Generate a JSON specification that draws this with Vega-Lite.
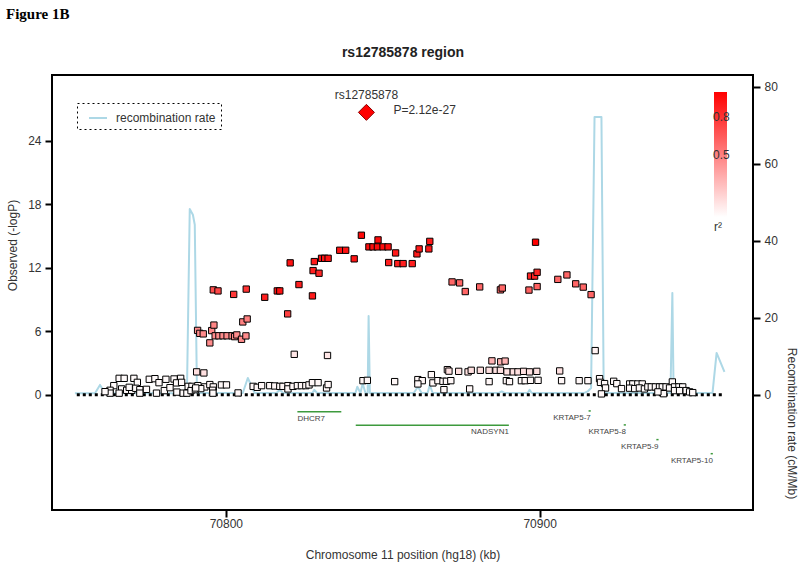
{
  "$schema": "https://vega.github.io/schema/vega-lite/v6.json",
  "width": 701,
  "height": 435,
  "autosize": "none",
  "padding": {"left": 52, "top": 75, "right": 47, "bottom": 55},
  "background": "#ffffff",
  "title": {"text": "Figure 1B", "anchor": "start", "font": "Liberation Serif", "fontSize": 15, "fontWeight": "bold", "color": "#000000", "offset": 20, "dy": -3},
  "config": {
    "font": "Liberation Sans",
    "view": {"stroke": "#000000", "strokeWidth": 2},
    "axis": {"grid": false, "domain": false, "tickColor": "#000000", "tickWidth": 2, "tickSize": 7, "labelFont": "Liberation Sans", "labelFontSize": 12, "labelColor": "#333333", "titleFont": "Liberation Sans", "titleFontSize": 12, "titleFontWeight": "normal", "titleColor": "#333333", "labelPadding": 4},
    "axisBottom": {"labelPadding": 1}
  },
  "datasets": {
    "recomb": [
      {"pos": 70751.9, "rate": 0.4, "series": "recombination rate"},
      {"pos": 70758.3, "rate": 0.4, "series": "recombination rate"},
      {"pos": 70759.9, "rate": 2.6, "series": "recombination rate"},
      {"pos": 70761.5, "rate": 0.4, "series": "recombination rate"},
      {"pos": 70787.6, "rate": 0.4, "series": "recombination rate"},
      {"pos": 70788.5, "rate": 48.3, "series": "recombination rate"},
      {"pos": 70789.5, "rate": 46.8, "series": "recombination rate"},
      {"pos": 70790.1, "rate": 44.2, "series": "recombination rate"},
      {"pos": 70790.8, "rate": 0.5, "series": "recombination rate"},
      {"pos": 70805.4, "rate": 0.5, "series": "recombination rate"},
      {"pos": 70807.0, "rate": 4.4, "series": "recombination rate"},
      {"pos": 70809.2, "rate": 0.5, "series": "recombination rate"},
      {"pos": 70816.1, "rate": 0.5, "series": "recombination rate"},
      {"pos": 70817.2, "rate": 1.3, "series": "recombination rate"},
      {"pos": 70818.2, "rate": 0.5, "series": "recombination rate"},
      {"pos": 70827.6, "rate": 0.5, "series": "recombination rate"},
      {"pos": 70828.2, "rate": 1.3, "series": "recombination rate"},
      {"pos": 70829.1, "rate": 0.5, "series": "recombination rate"},
      {"pos": 70841.3, "rate": 0.5, "series": "recombination rate"},
      {"pos": 70841.9, "rate": 2.1, "series": "recombination rate"},
      {"pos": 70842.9, "rate": 0.5, "series": "recombination rate"},
      {"pos": 70843.6, "rate": 3.0, "series": "recombination rate"},
      {"pos": 70844.5, "rate": 0.5, "series": "recombination rate"},
      {"pos": 70845.2, "rate": 0.5, "series": "recombination rate"},
      {"pos": 70845.5, "rate": 20.5, "series": "recombination rate"},
      {"pos": 70845.9, "rate": 0.5, "series": "recombination rate"},
      {"pos": 70859.9, "rate": 0.5, "series": "recombination rate"},
      {"pos": 70861.2, "rate": 2.1, "series": "recombination rate"},
      {"pos": 70862.4, "rate": 0.5, "series": "recombination rate"},
      {"pos": 70864.3, "rate": 0.5, "series": "recombination rate"},
      {"pos": 70865.0, "rate": 2.6, "series": "recombination rate"},
      {"pos": 70865.9, "rate": 0.5, "series": "recombination rate"},
      {"pos": 70887.0, "rate": 0.5, "series": "recombination rate"},
      {"pos": 70887.9, "rate": 0.9, "series": "recombination rate"},
      {"pos": 70888.8, "rate": 0.5, "series": "recombination rate"},
      {"pos": 70896.2, "rate": 0.5, "series": "recombination rate"},
      {"pos": 70896.8, "rate": 1.3, "series": "recombination rate"},
      {"pos": 70897.5, "rate": 0.5, "series": "recombination rate"},
      {"pos": 70914.3, "rate": 0.5, "series": "recombination rate"},
      {"pos": 70915.3, "rate": 0.9, "series": "recombination rate"},
      {"pos": 70916.4, "rate": 1.8, "series": "recombination rate"},
      {"pos": 70917.5, "rate": 72.2, "series": "recombination rate"},
      {"pos": 70919.7, "rate": 72.2, "series": "recombination rate"},
      {"pos": 70920.4, "rate": 3.1, "series": "recombination rate"},
      {"pos": 70920.7, "rate": 0.5, "series": "recombination rate"},
      {"pos": 70941.7, "rate": 0.5, "series": "recombination rate"},
      {"pos": 70942.3, "rate": 26.5, "series": "recombination rate"},
      {"pos": 70942.7, "rate": 0.5, "series": "recombination rate"},
      {"pos": 70955.1, "rate": 0.5, "series": "recombination rate"},
      {"pos": 70956.4, "rate": 10.9, "series": "recombination rate"},
      {"pos": 70958.9, "rate": 6.0, "series": "recombination rate"}
    ],
    "zero": [{"start": 70752.5, "end": 70958.3, "logp": 0}],
    "genes": [
      {"gene": "DHCR7", "start": 70822.8, "end": 70836.8, "row": -1.61},
      {"gene": "NADSYN1", "start": 70841.4, "end": 70890.2, "row": -2.9},
      {"gene": "KRTAP5-7", "start": 70915.6, "end": 70916.3, "row": -1.54},
      {"gene": "KRTAP5-8", "start": 70926.8, "end": 70927.5, "row": -2.86},
      {"gene": "KRTAP5-9", "start": 70937.2, "end": 70937.9, "row": -4.25},
      {"gene": "KRTAP5-10", "start": 70954.5, "end": 70955.2, "row": -5.58}
    ],
    "lead": [{"snp": "rs12785878", "pos": 70844.8, "logp": 26.67, "ptext": "P=2.12e-27"}],
    "snps": [
      {"pos": 70843.2, "logp": 15.06, "r2": 0.97},
      {"pos": 70848.5, "logp": 14.62, "r2": 0.95},
      {"pos": 70845.6, "logp": 13.96, "r2": 0.95},
      {"pos": 70846.9, "logp": 13.96, "r2": 0.95},
      {"pos": 70848.3, "logp": 13.96, "r2": 0.95},
      {"pos": 70850.1, "logp": 13.96, "r2": 0.95},
      {"pos": 70851.7, "logp": 13.96, "r2": 0.95},
      {"pos": 70836.3, "logp": 13.64, "r2": 0.93},
      {"pos": 70838.2, "logp": 13.64, "r2": 0.93},
      {"pos": 70840.9, "logp": 12.83, "r2": 0.92},
      {"pos": 70854.1, "logp": 13.39, "r2": 0.9},
      {"pos": 70851.9, "logp": 12.48, "r2": 0.88},
      {"pos": 70854.8, "logp": 12.38, "r2": 0.88},
      {"pos": 70856.5, "logp": 12.38, "r2": 0.88},
      {"pos": 70859.4, "logp": 12.38, "r2": 0.88},
      {"pos": 70860.9, "logp": 13.30, "r2": 0.9},
      {"pos": 70861.6, "logp": 13.77, "r2": 0.9},
      {"pos": 70864.7, "logp": 13.77, "r2": 0.9},
      {"pos": 70865.0, "logp": 14.48, "r2": 0.9},
      {"pos": 70820.5, "logp": 12.45, "r2": 0.93},
      {"pos": 70828.2, "logp": 12.57, "r2": 0.9},
      {"pos": 70830.5, "logp": 12.88, "r2": 0.93},
      {"pos": 70831.5, "logp": 12.88, "r2": 0.93},
      {"pos": 70832.6, "logp": 12.88, "r2": 0.93},
      {"pos": 70827.8, "logp": 11.72, "r2": 0.88},
      {"pos": 70829.7, "logp": 11.47, "r2": 0.85},
      {"pos": 70823.3, "logp": 10.40, "r2": 0.88},
      {"pos": 70816.4, "logp": 9.80, "r2": 0.93},
      {"pos": 70817.2, "logp": 9.80, "r2": 0.93},
      {"pos": 70812.4, "logp": 9.20, "r2": 0.88},
      {"pos": 70827.6, "logp": 9.33, "r2": 0.9},
      {"pos": 70806.5, "logp": 9.97, "r2": 0.8},
      {"pos": 70802.5, "logp": 9.47, "r2": 0.78},
      {"pos": 70796.0, "logp": 9.90, "r2": 0.7},
      {"pos": 70797.5, "logp": 9.80, "r2": 0.72},
      {"pos": 70819.7, "logp": 7.63, "r2": 0.75},
      {"pos": 70898.7, "logp": 14.40, "r2": 1.0},
      {"pos": 70897.1, "logp": 11.20, "r2": 0.85},
      {"pos": 70898.4, "logp": 11.20, "r2": 0.85},
      {"pos": 70899.2, "logp": 11.56, "r2": 0.85},
      {"pos": 70896.6, "logp": 9.88, "r2": 0.62},
      {"pos": 70899.2, "logp": 10.21, "r2": 0.62},
      {"pos": 70872.1, "logp": 10.65, "r2": 0.6},
      {"pos": 70874.5, "logp": 10.56, "r2": 0.6},
      {"pos": 70876.3, "logp": 9.74, "r2": 0.6},
      {"pos": 70880.9, "logp": 10.18, "r2": 0.6},
      {"pos": 70887.5, "logp": 9.90, "r2": 0.6},
      {"pos": 70888.1, "logp": 10.07, "r2": 0.6},
      {"pos": 70905.8, "logp": 10.89, "r2": 0.6},
      {"pos": 70908.7, "logp": 11.31, "r2": 0.6},
      {"pos": 70911.5, "logp": 10.47, "r2": 0.6},
      {"pos": 70913.9, "logp": 10.16, "r2": 0.6},
      {"pos": 70916.4, "logp": 9.45, "r2": 0.6},
      {"pos": 70791.0, "logp": 6.07, "r2": 0.45},
      {"pos": 70791.7, "logp": 5.79, "r2": 0.45},
      {"pos": 70792.8, "logp": 5.74, "r2": 0.45},
      {"pos": 70795.5, "logp": 6.05, "r2": 0.45},
      {"pos": 70796.2, "logp": 6.57, "r2": 0.48},
      {"pos": 70796.6, "logp": 5.56, "r2": 0.45},
      {"pos": 70797.8, "logp": 5.56, "r2": 0.45},
      {"pos": 70799.1, "logp": 5.56, "r2": 0.45},
      {"pos": 70800.4, "logp": 5.56, "r2": 0.45},
      {"pos": 70802.0, "logp": 5.56, "r2": 0.45},
      {"pos": 70802.8, "logp": 5.48, "r2": 0.45},
      {"pos": 70803.5, "logp": 5.64, "r2": 0.45},
      {"pos": 70805.0, "logp": 5.23, "r2": 0.45},
      {"pos": 70806.4, "logp": 5.55, "r2": 0.45},
      {"pos": 70794.9, "logp": 4.89, "r2": 0.45},
      {"pos": 70805.4, "logp": 6.87, "r2": 0.5},
      {"pos": 70806.8, "logp": 7.15, "r2": 0.5},
      {"pos": 70884.8, "logp": 3.19, "r2": 0.3},
      {"pos": 70887.6, "logp": 3.10, "r2": 0.3},
      {"pos": 70889.0, "logp": 3.17, "r2": 0.3},
      {"pos": 70821.8, "logp": 3.81, "r2": 0.1},
      {"pos": 70832.4, "logp": 3.70, "r2": 0.1},
      {"pos": 70917.7, "logp": 4.16, "r2": 0.05},
      {"pos": 70790.7, "logp": 2.15, "r2": 0.12},
      {"pos": 70793.0, "logp": 2.05, "r2": 0.12},
      {"pos": 70870.6, "logp": 2.36, "r2": 0.12},
      {"pos": 70871.1, "logp": 2.22, "r2": 0.12},
      {"pos": 70874.2, "logp": 2.20, "r2": 0.12},
      {"pos": 70877.2, "logp": 2.15, "r2": 0.12},
      {"pos": 70878.2, "logp": 2.30, "r2": 0.12},
      {"pos": 70881.1, "logp": 2.30, "r2": 0.12},
      {"pos": 70883.9, "logp": 2.30, "r2": 0.12},
      {"pos": 70886.1, "logp": 2.30, "r2": 0.12},
      {"pos": 70887.5, "logp": 2.30, "r2": 0.12},
      {"pos": 70889.6, "logp": 2.15, "r2": 0.12},
      {"pos": 70891.6, "logp": 2.15, "r2": 0.12},
      {"pos": 70893.1, "logp": 2.15, "r2": 0.12},
      {"pos": 70894.9, "logp": 2.20, "r2": 0.12},
      {"pos": 70896.8, "logp": 2.15, "r2": 0.12},
      {"pos": 70899.1, "logp": 2.20, "r2": 0.12},
      {"pos": 70906.4, "logp": 2.24, "r2": 0.12},
      {"pos": 70861.2, "logp": 1.42, "r2": 0.03},
      {"pos": 70862.6, "logp": 1.32, "r2": 0.03},
      {"pos": 70861.2, "logp": 1.01, "r2": 0.03},
      {"pos": 70865.5, "logp": 1.89, "r2": 0.03},
      {"pos": 70866.0, "logp": 1.11, "r2": 0.03},
      {"pos": 70867.6, "logp": 1.32, "r2": 0.03},
      {"pos": 70869.2, "logp": 1.26, "r2": 0.03},
      {"pos": 70870.3, "logp": 1.26, "r2": 0.03},
      {"pos": 70871.7, "logp": 1.32, "r2": 0.03},
      {"pos": 70869.5, "logp": 0.47, "r2": 0.03},
      {"pos": 70877.7, "logp": 0.54, "r2": 0.03},
      {"pos": 70883.9, "logp": 1.23, "r2": 0.03},
      {"pos": 70889.4, "logp": 1.32, "r2": 0.03},
      {"pos": 70890.4, "logp": 1.23, "r2": 0.03},
      {"pos": 70894.2, "logp": 1.32, "r2": 0.03},
      {"pos": 70895.4, "logp": 1.32, "r2": 0.03},
      {"pos": 70897.1, "logp": 1.35, "r2": 0.03},
      {"pos": 70899.5, "logp": 1.35, "r2": 0.03},
      {"pos": 70907.0, "logp": 1.32, "r2": 0.03},
      {"pos": 70912.6, "logp": 1.32, "r2": 0.03},
      {"pos": 70915.4, "logp": 1.32, "r2": 0.03},
      {"pos": 70919.1, "logp": 1.51, "r2": 0.03},
      {"pos": 70919.4, "logp": 1.16, "r2": 0.03},
      {"pos": 70920.7, "logp": 1.04, "r2": 0.03},
      {"pos": 70921.0, "logp": 0.63, "r2": 0.03},
      {"pos": 70919.7, "logp": 0.07, "r2": 0.03},
      {"pos": 70843.7, "logp": 1.32, "r2": 0.03},
      {"pos": 70845.1, "logp": 1.35, "r2": 0.03},
      {"pos": 70853.8, "logp": 1.23, "r2": 0.03},
      {"pos": 70923.6, "logp": 1.26, "r2": 0.02},
      {"pos": 70924.6, "logp": 1.04, "r2": 0.02},
      {"pos": 70926.1, "logp": 0.57, "r2": 0.02},
      {"pos": 70928.7, "logp": 1.01, "r2": 0.02},
      {"pos": 70929.7, "logp": 1.01, "r2": 0.02},
      {"pos": 70931.3, "logp": 1.01, "r2": 0.02},
      {"pos": 70932.7, "logp": 1.01, "r2": 0.02},
      {"pos": 70928.7, "logp": 0.61, "r2": 0.02},
      {"pos": 70930.3, "logp": 0.57, "r2": 0.02},
      {"pos": 70931.8, "logp": 0.63, "r2": 0.02},
      {"pos": 70933.4, "logp": 0.54, "r2": 0.02},
      {"pos": 70934.5, "logp": 0.73, "r2": 0.02},
      {"pos": 70935.6, "logp": 0.73, "r2": 0.02},
      {"pos": 70936.9, "logp": 0.73, "r2": 0.02},
      {"pos": 70938.2, "logp": 0.73, "r2": 0.02},
      {"pos": 70939.1, "logp": 0.73, "r2": 0.02},
      {"pos": 70940.3, "logp": 0.73, "r2": 0.02},
      {"pos": 70942.3, "logp": 1.20, "r2": 0.02},
      {"pos": 70941.4, "logp": 0.63, "r2": 0.02},
      {"pos": 70943.0, "logp": 0.73, "r2": 0.02},
      {"pos": 70944.4, "logp": 0.73, "r2": 0.02},
      {"pos": 70945.6, "logp": 0.73, "r2": 0.02},
      {"pos": 70943.0, "logp": 0.38, "r2": 0.02},
      {"pos": 70944.6, "logp": 0.38, "r2": 0.02},
      {"pos": 70946.7, "logp": 0.38, "r2": 0.02},
      {"pos": 70947.8, "logp": 0.26, "r2": 0.02},
      {"pos": 70948.8, "logp": 0.19, "r2": 0.02},
      {"pos": 70939.5, "logp": 0.09, "r2": 0.02},
      {"pos": 70937.7, "logp": 0.26, "r2": 0.02},
      {"pos": 70793.3, "logp": 0.73, "r2": 0.03},
      {"pos": 70794.9, "logp": 0.95, "r2": 0.03},
      {"pos": 70796.0, "logp": 0.73, "r2": 0.03},
      {"pos": 70795.8, "logp": 0.41, "r2": 0.03},
      {"pos": 70798.6, "logp": 0.92, "r2": 0.03},
      {"pos": 70800.2, "logp": 0.92, "r2": 0.03},
      {"pos": 70803.9, "logp": 0.16, "r2": 0.03},
      {"pos": 70808.7, "logp": 0.78, "r2": 0.03},
      {"pos": 70810.0, "logp": 0.69, "r2": 0.03},
      {"pos": 70811.4, "logp": 0.85, "r2": 0.03},
      {"pos": 70814.0, "logp": 0.85, "r2": 0.03},
      {"pos": 70815.6, "logp": 0.82, "r2": 0.03},
      {"pos": 70817.2, "logp": 0.78, "r2": 0.03},
      {"pos": 70818.2, "logp": 0.78, "r2": 0.03},
      {"pos": 70819.8, "logp": 0.85, "r2": 0.03},
      {"pos": 70819.8, "logp": 0.54, "r2": 0.03},
      {"pos": 70821.4, "logp": 0.78, "r2": 0.03},
      {"pos": 70822.8, "logp": 0.85, "r2": 0.03},
      {"pos": 70824.1, "logp": 0.85, "r2": 0.03},
      {"pos": 70825.5, "logp": 0.85, "r2": 0.03},
      {"pos": 70826.5, "logp": 0.92, "r2": 0.03},
      {"pos": 70827.6, "logp": 1.13, "r2": 0.03},
      {"pos": 70829.4, "logp": 1.13, "r2": 0.03},
      {"pos": 70832.1, "logp": 0.63, "r2": 0.03},
      {"pos": 70832.6, "logp": 0.95, "r2": 0.03},
      {"pos": 70766.0, "logp": 1.54, "r2": 0.02},
      {"pos": 70767.6, "logp": 1.54, "r2": 0.02},
      {"pos": 70770.7, "logp": 1.54, "r2": 0.02},
      {"pos": 70771.8, "logp": 1.16, "r2": 0.02},
      {"pos": 70775.6, "logp": 1.45, "r2": 0.02},
      {"pos": 70777.4, "logp": 1.51, "r2": 0.02},
      {"pos": 70778.7, "logp": 1.13, "r2": 0.02},
      {"pos": 70780.9, "logp": 1.45, "r2": 0.02},
      {"pos": 70783.5, "logp": 1.48, "r2": 0.02},
      {"pos": 70785.6, "logp": 1.54, "r2": 0.02},
      {"pos": 70784.3, "logp": 1.11, "r2": 0.02},
      {"pos": 70785.9, "logp": 1.16, "r2": 0.02},
      {"pos": 70764.3, "logp": 0.85, "r2": 0.02},
      {"pos": 70763.1, "logp": 0.41, "r2": 0.02},
      {"pos": 70766.8, "logp": 0.54, "r2": 0.02},
      {"pos": 70768.4, "logp": 0.41, "r2": 0.02},
      {"pos": 70770.0, "logp": 0.41, "r2": 0.02},
      {"pos": 70771.3, "logp": 0.60, "r2": 0.02},
      {"pos": 70772.6, "logp": 0.47, "r2": 0.02},
      {"pos": 70763.1, "logp": 0.14, "r2": 0.02},
      {"pos": 70766.0, "logp": 0.14, "r2": 0.02},
      {"pos": 70772.6, "logp": 0.14, "r2": 0.02},
      {"pos": 70777.9, "logp": 0.14, "r2": 0.02},
      {"pos": 70780.4, "logp": 0.38, "r2": 0.02},
      {"pos": 70784.4, "logp": 0.24, "r2": 0.02},
      {"pos": 70786.4, "logp": 0.14, "r2": 0.02},
      {"pos": 70787.6, "logp": 0.14, "r2": 0.02},
      {"pos": 70788.0, "logp": 0.78, "r2": 0.02},
      {"pos": 70789.2, "logp": 0.78, "r2": 0.02},
      {"pos": 70788.9, "logp": 0.38, "r2": 0.02},
      {"pos": 70790.3, "logp": 0.47, "r2": 0.02},
      {"pos": 70791.1, "logp": 0.85, "r2": 0.02},
      {"pos": 70792.0, "logp": 0.57, "r2": 0.02},
      {"pos": 70795.9, "logp": 0.14, "r2": 0.02},
      {"pos": 70782.2, "logp": 0.66, "r2": 0.02},
      {"pos": 70769.2, "logp": 0.69, "r2": 0.02},
      {"pos": 70774.7, "logp": 0.50, "r2": 0.02},
      {"pos": 70761.5, "logp": 0.28, "r2": 0.02},
      {"pos": 70790.4, "logp": 0.63, "r2": 0.02}
    ]
  },
  "layer": [
    {
      "data": {"name": "recomb"},
      "mark": {"type": "line", "strokeWidth": 2, "strokeJoin": "round"},
      "encoding": {
        "x": {"field": "pos", "type": "quantitative", "scale": {"domain": [70744.6, 70968], "nice": false, "zero": false},
          "axis": {"orient": "top", "labels": false, "ticks": false, "domain": false, "title": "rs12785878 region", "titleFontSize": 14, "titleFontWeight": "bold", "titleColor": "#222222", "titleX": 350.5, "titleY": -23, "titleAlign": "center", "titleBaseline": "middle", "titleAngle": 0}},
        "y": {"field": "rate", "type": "quantitative", "scale": {"domain": [-29.9, 83.1], "nice": false, "zero": false},
          "axis": {"orient": "right", "values": [0, 20, 40, 60, 80], "title": "Recombination rate (cM/Mb)", "titleAngle": 90, "titleX": 38, "titleY": 348, "titleAlign": "center", "titleBaseline": "middle"}},
        "stroke": {"field": "series", "type": "nominal", "scale": {"range": ["#add8e6"]},
          "legend": {"title": null, "orient": "none", "legendX": 25, "legendY": 28, "padding": 5, "symbolOffset": 6, "symbolType": "stroke", "symbolStrokeWidth": 2, "symbolSize": 324, "labelFontSize": 12, "labelColor": "#333333", "labelOffset": 8,
            "encode": {"legend": {"update": {"stroke": {"value": "#000000"}, "strokeDash": {"value": [2, 3]}, "strokeWidth": {"value": 1}}}}}}
      }
    },
    {
      "data": {"name": "zero"},
      "mark": {"type": "rule", "color": "#000000", "strokeWidth": 3, "strokeDash": [3, 3]},
      "encoding": {
        "x": {"field": "start", "type": "quantitative", "axis": null},
        "x2": {"field": "end"},
        "y": {"field": "logp", "type": "quantitative", "scale": {"domain": [-10.9, 30.2], "nice": false, "zero": false}, "axis": null}
      }
    },
    {
      "data": {"name": "genes"},
      "mark": {"type": "rule", "color": "#3d9a3d", "strokeWidth": 1.5},
      "encoding": {
        "x": {"field": "start", "type": "quantitative", "axis": null},
        "x2": {"field": "end"},
        "y": {"field": "row", "type": "quantitative", "scale": {"domain": [-10.9, 30.2], "nice": false, "zero": false}, "axis": null}
      }
    },
    {
      "data": {"name": "genes"},
      "transform": [{"filter": "datum.gene == 'DHCR7'"}],
      "mark": {"type": "text", "align": "left", "baseline": "middle", "dy": 7, "fontSize": 8, "color": "#444444"},
      "encoding": {
        "x": {"field": "start", "type": "quantitative", "axis": null},
        "y": {"field": "row", "type": "quantitative", "scale": {"domain": [-10.9, 30.2], "nice": false, "zero": false}, "axis": null},
        "text": {"field": "gene"}
      }
    },
    {
      "data": {"name": "genes"},
      "transform": [{"filter": "datum.gene != 'DHCR7'"}],
      "mark": {"type": "text", "align": "right", "baseline": "middle", "dy": 7, "fontSize": 8, "color": "#444444"},
      "encoding": {
        "x": {"field": "end", "type": "quantitative", "axis": null},
        "y": {"field": "row", "type": "quantitative", "scale": {"domain": [-10.9, 30.2], "nice": false, "zero": false}, "axis": null},
        "text": {"field": "gene"}
      }
    },
    {
      "data": {"name": "snps"},
      "mark": {"type": "square", "size": 40, "stroke": "#000000", "strokeWidth": 1, "opacity": 1},
      "encoding": {
        "x": {"field": "pos", "type": "quantitative", "scale": {"domain": [70744.6, 70968], "nice": false, "zero": false},
          "axis": {"orient": "bottom", "values": [70800, 70900], "format": "d", "title": "Chromosome 11 position (hg18) (kb)", "titleY": 44, "titleBaseline": "middle"}},
        "y": {"field": "logp", "type": "quantitative", "scale": {"domain": [-10.9, 30.2], "nice": false, "zero": false},
          "axis": {"orient": "left", "values": [0, 6, 12, 18, 24], "title": "Observed (-logP)", "titleX": -40, "titleY": 170, "titleAlign": "center", "titleBaseline": "middle"}},
        "fill": {"field": "r2", "type": "quantitative", "scale": {"domain": [0, 1], "range": ["#ffffff", "#ff0000"], "interpolate": "rgb"},
          "legend": {"title": "r²", "orient": "none", "legendX": 662, "legendY": 17, "direction": "vertical", "gradientLength": 125, "gradientThickness": 13, "gradientStrokeWidth": 0, "titleOrient": "bottom", "titleFontSize": 12, "titleFontWeight": "normal", "titleColor": "#333333", "titleAnchor": "start", "values": [0.5, 0.8], "labelOffset": -14, "labelFontSize": 12, "labelColor": "#333333", "labelOverlap": false}}
      }
    },
    {
      "data": {"name": "lead"},
      "mark": {"type": "point", "shape": "diamond", "filled": true, "size": 256, "fill": "#ff0000", "stroke": "#8b0000", "strokeWidth": 1, "opacity": 1},
      "encoding": {
        "x": {"field": "pos", "type": "quantitative", "axis": null},
        "y": {"field": "logp", "type": "quantitative", "scale": {"domain": [-10.9, 30.2], "nice": false, "zero": false}, "axis": null}
      }
    },
    {
      "data": {"name": "lead"},
      "mark": {"type": "text", "align": "center", "baseline": "middle", "dy": -17, "fontSize": 12, "color": "#333333"},
      "encoding": {
        "x": {"field": "pos", "type": "quantitative", "axis": null},
        "y": {"field": "logp", "type": "quantitative", "scale": {"domain": [-10.9, 30.2], "nice": false, "zero": false}, "axis": null},
        "text": {"field": "snp"}
      }
    },
    {
      "data": {"name": "lead"},
      "mark": {"type": "text", "align": "left", "baseline": "middle", "dx": 27, "dy": -2, "fontSize": 12, "color": "#333333"},
      "encoding": {
        "x": {"field": "pos", "type": "quantitative", "axis": null},
        "y": {"field": "logp", "type": "quantitative", "scale": {"domain": [-10.9, 30.2], "nice": false, "zero": false}, "axis": null},
        "text": {"field": "ptext"}
      }
    }
  ],
  "resolve": {"scale": {"y": "independent"}, "axis": {"x": "independent", "y": "independent"}}
}
